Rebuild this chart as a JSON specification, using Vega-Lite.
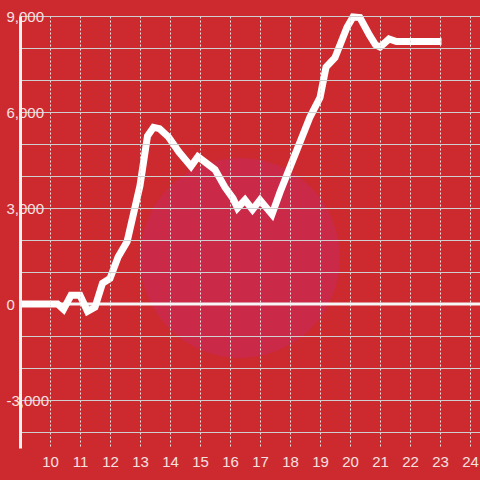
{
  "$schema": "https://vega.github.io/schema/vega-lite/v6.json",
  "width": 460,
  "height": 432,
  "autosize": "none",
  "padding": {"left": 20, "top": 16, "right": 0, "bottom": 32},
  "background": "#cd2a2f",
  "config": {"view": {"stroke": null}, "font": "Liberation Sans"},
  "encoding": {
    "x": {
      "field": "h", "type": "quantitative",
      "scale": {"domain": [9, 24.333], "nice": false, "zero": false},
      "axis": {
        "zindex": 1, "title": null, "values": [10, 11, 12, 13, 14, 15, 16, 17, 18, 19, 20, 21, 22, 23, 24],
        "domain": false, "ticks": false, "tickSize": 0, "labelPadding": 18, "labelBaseline": "alphabetic",
        "labelFontSize": 15, "labelColor": "#f5e0e0", "labelFlush": false, "labelOverlap": false,
        "grid": true, "gridColor": "#e4e4e4", "gridDash": [2, 2], "gridWidth": 1
      }
    },
    "y": {
      "field": "v", "type": "quantitative",
      "scale": {"domain": [-4500, 9000], "nice": false, "zero": false},
      "axis": {
        "zindex": 1, "title": null,
        "values": [-4000, -3000, -2000, -1000, 0, 1000, 2000, 3000, 4000, 5000, 6000, 7000, 8000, 9000],
        "labelExpr": "datum.value % 3000 === 0 ? replace(format(datum.value, ','), '−', '-') : ''",
        "domain": true, "domainColor": "#f2f2f2", "domainWidth": 3,
        "ticks": false, "tickSize": 0, "labelPadding": 14, "labelAlign": "left", "labelBaseline": "middle",
        "labelFontSize": 15, "labelColor": "#f5e0e0", "labelFlush": false, "labelOverlap": false, "labelBound": false,
        "grid": true, "gridWidth": 1,
        "gridColor": {"condition": {"test": "datum.value === 0", "value": "transparent"}, "value": "#cfcfcf"}
      }
    }
  },
  "layer": [
    {
      "data": {"values": [{"h": 16.333, "v": 1440}]},
      "mark": {"type": "point", "filled": true, "color": "#ca2948", "opacity": 1, "size": 40000}
    },
    {
      "data": {"values": [{"h": 9, "v": 0}, {"h": 24.333, "v": 0}]},
      "mark": {"type": "line", "color": "#f6f6f6", "strokeWidth": 3}
    },
    {
      "data": {"values": [
        {"h": 9.0, "v": 0}, {"h": 10.25, "v": 0}, {"h": 10.45, "v": -170}, {"h": 10.7, "v": 270},
        {"h": 11.0, "v": 270}, {"h": 11.25, "v": -230}, {"h": 11.5, "v": -100}, {"h": 11.75, "v": 650},
        {"h": 12.0, "v": 800}, {"h": 12.27, "v": 1470}, {"h": 12.57, "v": 1950}, {"h": 13.0, "v": 3700},
        {"h": 13.25, "v": 5250}, {"h": 13.45, "v": 5520}, {"h": 13.65, "v": 5480}, {"h": 13.95, "v": 5220},
        {"h": 14.3, "v": 4750}, {"h": 14.7, "v": 4300}, {"h": 14.93, "v": 4600}, {"h": 15.5, "v": 4200},
        {"h": 15.83, "v": 3650}, {"h": 16.1, "v": 3300}, {"h": 16.25, "v": 3000}, {"h": 16.5, "v": 3250},
        {"h": 16.75, "v": 2950}, {"h": 17.0, "v": 3250}, {"h": 17.4, "v": 2800}, {"h": 17.67, "v": 3500},
        {"h": 18.33, "v": 5050}, {"h": 18.67, "v": 5850}, {"h": 19.0, "v": 6450}, {"h": 19.2, "v": 7400},
        {"h": 19.5, "v": 7700}, {"h": 19.9, "v": 8650}, {"h": 20.1, "v": 8970}, {"h": 20.33, "v": 8950},
        {"h": 20.65, "v": 8400}, {"h": 20.85, "v": 8100}, {"h": 21.0, "v": 8030}, {"h": 21.3, "v": 8280},
        {"h": 21.55, "v": 8200}, {"h": 23.05, "v": 8200}
      ]},
      "mark": {"type": "line", "color": "#ffffff", "strokeWidth": 7}
    }
  ]
}
